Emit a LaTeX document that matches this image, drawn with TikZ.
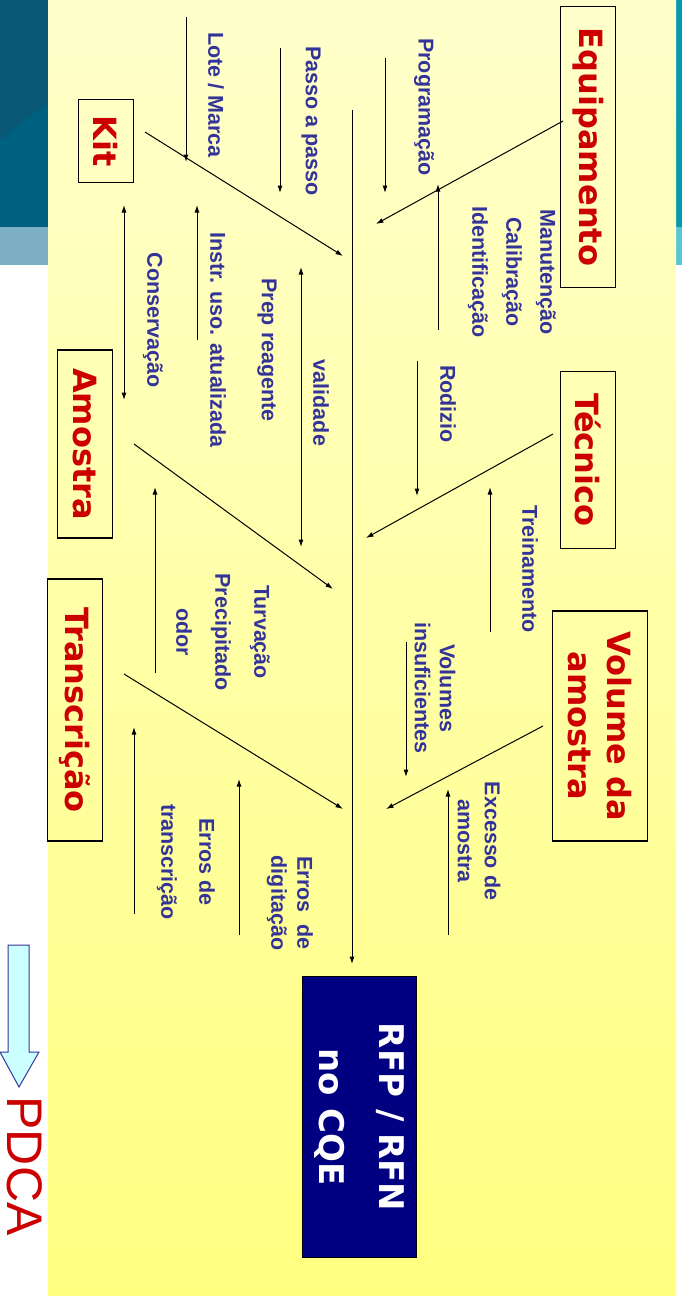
\documentclass[tikz,border=0pt]{standalone}
\usepackage{fontspec}
\setmainfont{Liberation Sans}
\newfontfamily\catfont{DejaVu Sans}
\usepackage{tikz}
\usetikzlibrary{arrows.meta}

\begin{document}
\begin{tikzpicture}[x=1pt, y=-1pt, >={Latex[length=7.5pt,width=5pt]}, line width=1pt,
    every node/.style={align=center, rotate=-90, inner sep=0pt},
    cause/.style={draw=black, line width=1.2pt, text=causered, font=\catfont\bfseries\fontsize{32}{39}\selectfont},
    sub/.style={text=subblue, font=\bfseries\fontsize{21.5}{25}\selectfont}]
      \definecolor{causered}{RGB}{204,0,0} \definecolor{subblue}{RGB}{51,51,153}
      \definecolor{headnavy}{RGB}{0,0,128}
      \definecolor{slidedark}{RGB}{8,88,118} \definecolor{slideteal}{RGB}{0,96,127}
      \definecolor{slidelight}{RGB}{124,174,196}
      \useasboundingbox (0,0) rectangle (682,1302);
      % slide background and panel
      \fill[slidedark] (0,0) rectangle (48,227);
      \fill[slideteal] (0,140) -- (48,103) -- (48,227) -- (0,227) -- cycle;
      \fill[slidelight] (0,227) rectangle (48,265);
      \fill[slidedark!60!cyan] (676,0) rectangle (682,227);
      \fill[slidelight!70!cyan] (676,227) rectangle (682,265);
      \shade[top color={rgb,255:red,255;green,255;blue,204}, bottom color={rgb,255:red,255;green,255;blue,128}] (48,0) rectangle (676,1295);

      % causes
      \node[cause, minimum width=281, minimum height=55] (equip) at (588,147) {Equipamento};
      \node[cause, minimum width=83, minimum height=55] (kit) at (106,141) {Kit};
      \node[cause, minimum width=177, minimum height=55] (tecnico) at (588,460) {Técnico};
      \node[cause, minimum width=188, minimum height=55] (amostra) at (85,444) {Amostra};
      \node[cause, minimum width=262, minimum height=55] (transc) at (75,710) {Transcrição};
      \node[cause, minimum width=230, minimum height=95] (volume) at (600,726) {Volume da\\amostra};

      % effect
      \node[fill=headnavy, draw=black, text=white, font=\catfont\bfseries\fontsize{34}{60}\selectfont,
        minimum width=281, minimum height=114] (rfp) at (359,1117) {RFP / RFN\\no CQE};

      % spine and bones
      \coordinate (spine) at (352,110);
      \draw[->, shorten >=12pt] (spine) -- (spine |- rfp.west);
      \coordinate (kit-b) at (145,132);      \coordinate (kit-e) at (343,256);
      \coordinate (equip-b) at (563,121);    \coordinate (equip-e) at (376,224);
      \coordinate (amostra-b) at (134,444);  \coordinate (amostra-e) at (333,589);
      \coordinate (tecnico-b) at (553,434);  \coordinate (tecnico-e) at (366,538);
      \coordinate (transc-b) at (124,674);   \coordinate (transc-e) at (343,809);
      \coordinate (volume-b) at (543,726);   \coordinate (volume-e) at (386,809);
      \foreach \c in {kit, equip, amostra, tecnico, transc, volume}
        \draw[->] (\c-b) -- (\c-e);

      % sub-cause arrows
      \foreach \n/\x/\a/\b in {lote/186/17/162, passo/280/48/193, prog/385/58/193, rodizio/417/361/496,
          vol/406/642/777, manut/438/330/184, instr/197/340/205, trein/490/632/487, turv/155/673/487,
          exc/448/935/789, digit/239/935/779, errt/134/914/727} {
        \coordinate (\n-a) at (\x,\a); \coordinate (\n-b) at (\x,\b);
        \draw[->] (\n-a) -- (\n-b);
      }
      \coordinate (cons-a) at (124,205); \coordinate (cons-b) at (124,400);
      \draw[<->] (cons-a) -- (cons-b);
      \coordinate (prep-a) at (301,267); \coordinate (prep-b) at (301,547);
      \draw[<->] (prep-a) -- (prep-b);

      % sub-cause labels
      \node[sub] (lote) at (216,95) {Lote / Marca};
      \node[sub] (passo) at (311,121) {Passo a passo};
      \node[sub] (prog) at (424,107) {Programação};
      \node[sub, font=\bfseries\fontsize{21.5}{34}\selectfont] (manut) at (512,272) {Manutenção\\Calibração\\Identificação};
      \node[sub] (cons) at (153,320) {Conservação};
      \node[sub] (instr) at (218,340) {Instr. uso. atualizada};
      \node[sub] (prep) at (267,350) {Prep reagente};
      \node[sub] (valid) at (321,403) {validade};
      \node[sub] (rodizio) at (448,404) {Rodizio};
      \node[sub] (trein) at (530,569) {Treinamento};
      \node[sub, font=\bfseries\fontsize{21.5}{39}\selectfont] (turv) at (223,632) {Turvação\\Precipitado\\odor};
      \node[sub] (vol) at (435,688) {Volumes\\insuficientes};
      \node[sub, font=\bfseries\fontsize{21.5}{27}\selectfont] (exc) at (479,841) {Excesso de\\amostra};
      \node[sub, font=\bfseries\fontsize{21.5}{26}\selectfont] (digit) at (290,903) {Erros~~de\\digitação};
      \node[sub, font=\bfseries\fontsize{21.5}{38}\selectfont] (errt) at (186,862) {Erros de\\transcrição};

      % PDCA
      \draw[fill={rgb,255:red,204;green,255;blue,255}, draw=subblue] (8,945) -- (29,945) -- (29,1052) -- (39,1052)
        -- (19,1087) -- (0,1052) -- (8,1052) -- cycle;
      \node[text=causered, font=\fontsize{50}{60}\selectfont] (pdca) at (25,1166) {PDCA};
    \end{tikzpicture}
\end{document}
